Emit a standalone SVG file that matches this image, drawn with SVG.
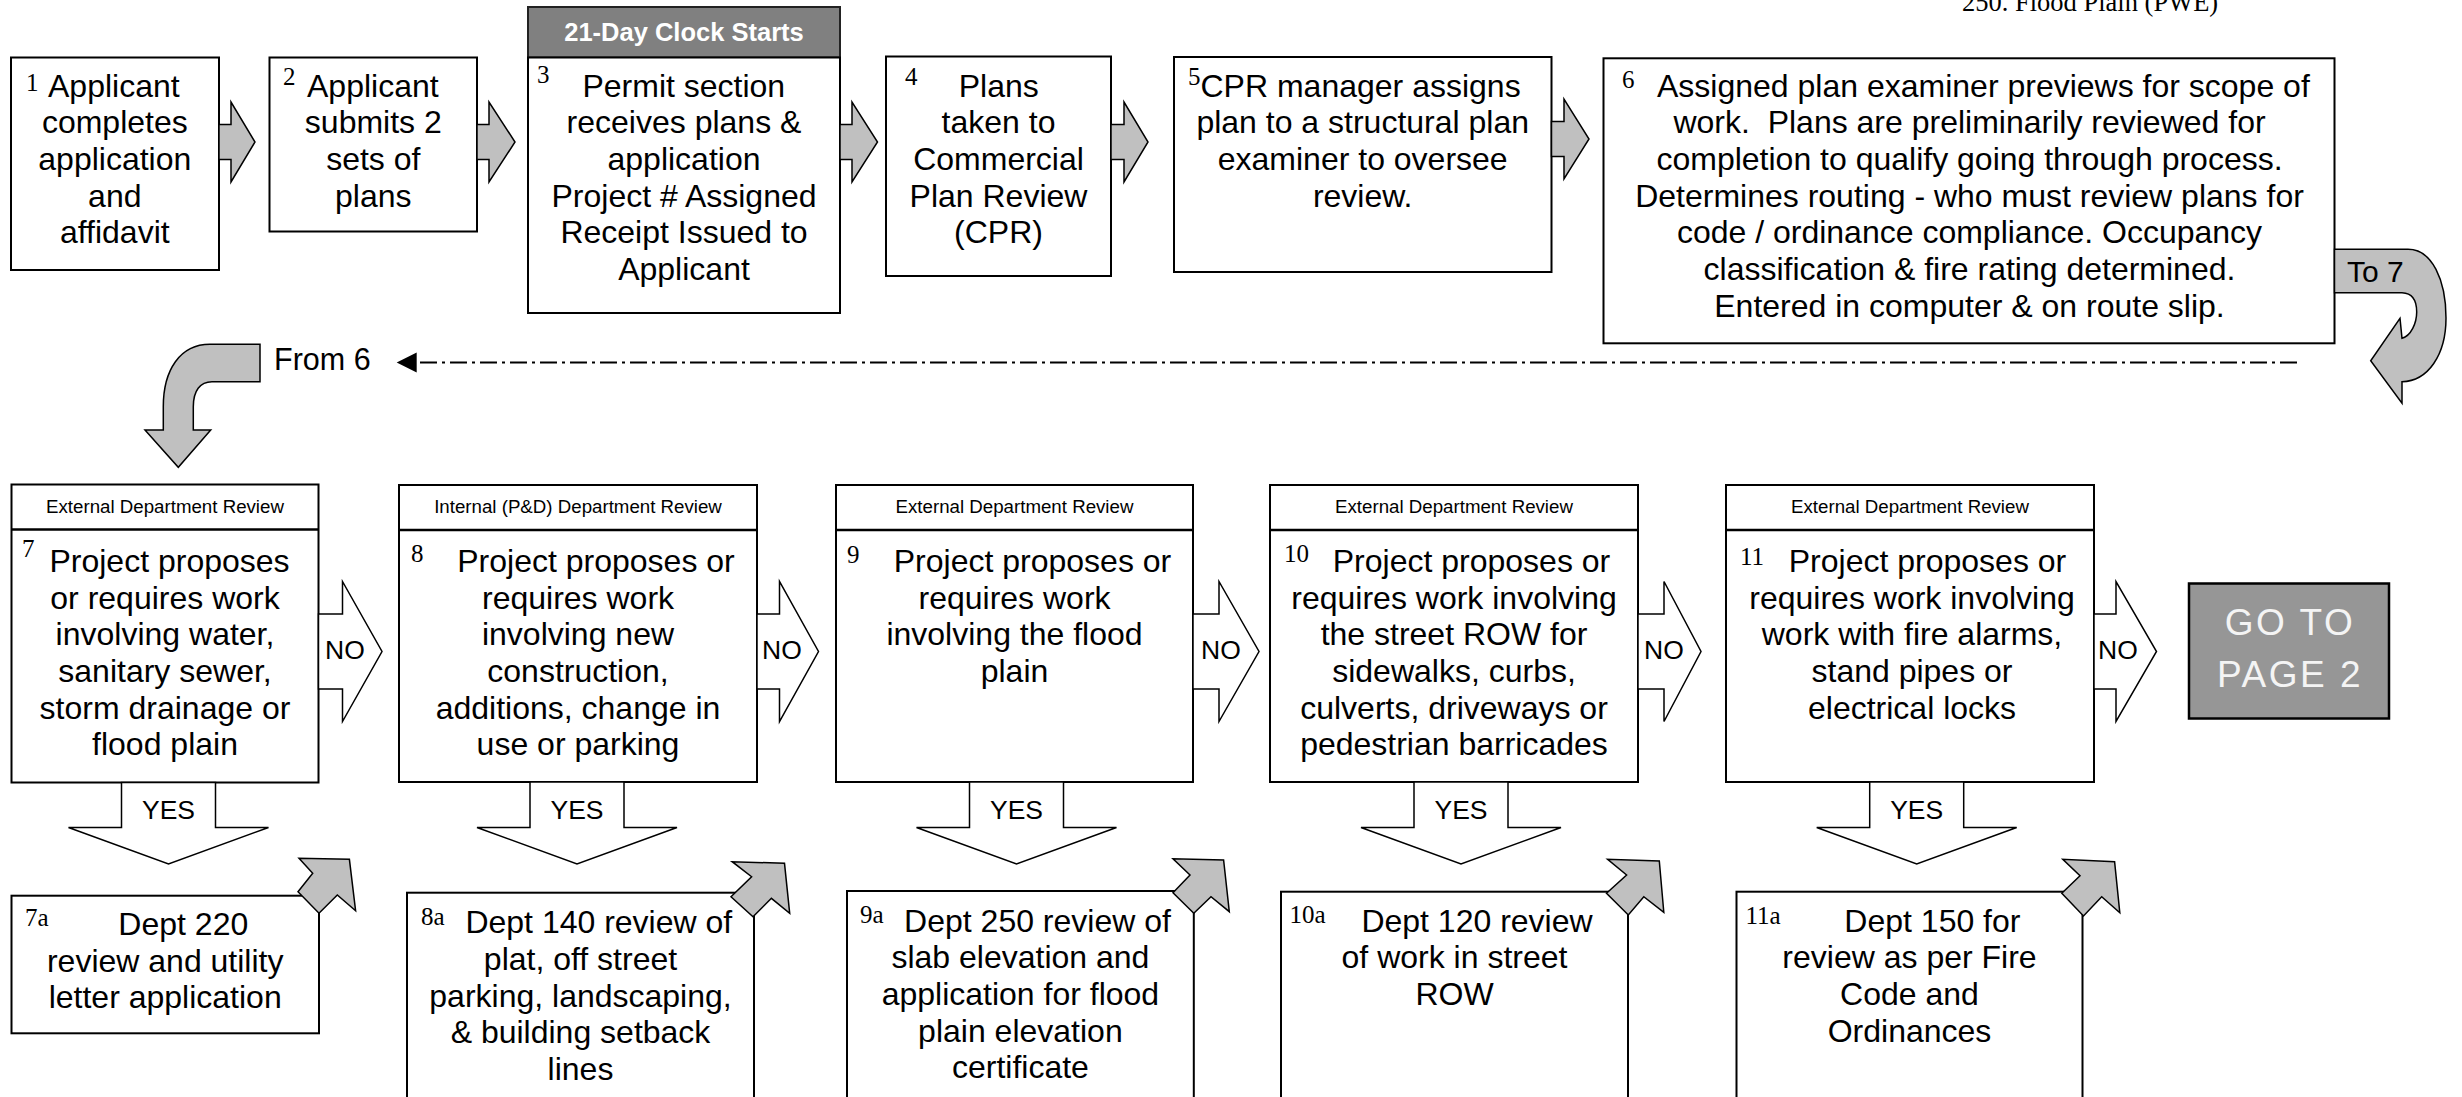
<svg xmlns="http://www.w3.org/2000/svg" width="2462" height="1097" viewBox="0 0 2462 1097">
<style>
.bg{fill:#fff}
.box{fill:#fff;stroke:#000;stroke-width:2}
.hdr{fill:#808080;stroke:#222;stroke-width:2}
.go{fill:#969696;stroke:#000;stroke-width:2.5}
.ga{fill:#c0c0c0;stroke:#000;stroke-width:1.5;stroke-linejoin:miter}
.wa{fill:#fff;stroke:#000;stroke-width:1.5}
.t{font-family:"Liberation Sans",Arial,sans-serif;font-size:32px;fill:#000;text-anchor:middle}
.s{text-anchor:start}
.n{font-family:"Liberation Serif","Times New Roman",serif;font-size:25px;fill:#000}
.h{font-family:"Liberation Sans",Arial,sans-serif;font-size:18.7px;fill:#000;text-anchor:middle}
.lbl{font-family:"Liberation Sans",Arial,sans-serif;font-size:26.5px;fill:#000}
.dash{fill:none;stroke:#000;stroke-width:2;stroke-dasharray:17 5 3 5}
</style>
<rect class="bg" x="0" y="0" width="2462" height="1097"/>
<text x="1962" y="11" style="font-family:'Liberation Serif','Times New Roman',serif;font-size:26.5px">250. Flood Plain (PWE)</text>

<g id="node-1">
<rect class="box" x="11" y="57.5" width="208" height="212.5"/>
<text class="n" x="26" y="90.7">1</text>
<text class="t s" x="48" y="96.7">Applicant</text>
<text class="t" x="114.8" y="133.3">completes</text>
<text class="t" x="114.8" y="170">application</text>
<text class="t" x="114.8" y="206.7">and</text>
<text class="t" x="114.8" y="243.3">affidavit</text>
</g>
<g id="node-2">
<rect class="box" x="269.5" y="57.5" width="207.5" height="174"/>
<text class="n" x="283" y="85">2</text>
<text class="t s" x="307" y="96.7">Applicant</text>
<text class="t" x="373.3" y="133.3">submits 2</text>
<text class="t" x="373.3" y="170">sets of</text>
<text class="t" x="373.3" y="206.7">plans</text>
</g>
<g id="node-3">
<rect class="hdr" x="528" y="7" width="312" height="50.5"/>
<text x="684" y="40.7" style="font-family:'Liberation Sans',Arial,sans-serif;font-size:25.5px;font-weight:bold;fill:#fff;text-anchor:middle">21-Day Clock Starts</text>
<rect class="box" x="528" y="57.5" width="312" height="255.5"/>
<text class="n" x="537" y="83.3">3</text>
<text class="t" x="683.8" y="96.7">Permit section</text>
<text class="t" x="684" y="133.3">receives plans &amp;</text>
<text class="t" x="684" y="170">application</text>
<text class="t" x="684" y="206.7">Project # Assigned</text>
<text class="t" x="684" y="243.3">Receipt Issued to</text>
<text class="t" x="684" y="280">Applicant</text>
</g>
<g id="node-4">
<rect class="box" x="886" y="56.5" width="225" height="219.5"/>
<text class="n" x="905" y="85">4</text>
<text class="t" x="998.8" y="96.7">Plans</text>
<text class="t" x="998.5" y="133.3">taken to</text>
<text class="t" x="998.5" y="170">Commercial</text>
<text class="t" x="998.5" y="206.7">Plan Review</text>
<text class="t" x="998.5" y="243.3">(CPR)</text>
</g>
<g id="node-5">
<rect class="box" x="1174" y="57" width="377.5" height="215"/>
<text class="n" x="1188" y="85">5</text>
<text class="t s" x="1200.5" y="96.7">CPR manager assigns</text>
<text class="t" x="1362.7" y="133.3">plan to a structural plan</text>
<text class="t" x="1362.7" y="170">examiner to oversee</text>
<text class="t" x="1362.7" y="206.7">review.</text>
</g>
<g id="node-6">
<rect class="box" x="1603.5" y="58.3" width="731" height="285"/>
<text class="n" x="1622" y="88.3">6</text>
<text class="t s" x="1657" y="96.7">Assigned plan examiner previews for scope of</text>
<text class="t" x="1969.5" y="133.3" xml:space="preserve">work.  Plans are preliminarily reviewed for</text>
<text class="t" x="1969.5" y="170">completion to qualify going through process.</text>
<text class="t" x="1969.5" y="206.7">Determines routing - who must review plans for</text>
<text class="t" x="1969.5" y="243.3">code / ordinance compliance. Occupancy</text>
<text class="t" x="1969.5" y="280">classification &amp; fire rating determined.</text>
<text class="t" x="1969.5" y="316.7">Entered in computer &amp; on route slip.</text>
</g>

<g id="node-7">
<rect class="box" x="11.5" y="484.5" width="307" height="298"/>
<line x1="11.5" y1="529.5" x2="318.5" y2="529.5" stroke="#000" stroke-width="2.5"/>
<text class="h" x="165" y="513.3">External Department Review</text>
<text class="n" x="22" y="556.7">7</text>
<text class="t" x="169.5" y="572">Project proposes</text>
<text class="t" x="165" y="608.7">or requires work</text>
<text class="t" x="165" y="645.4">involving water,</text>
<text class="t" x="165" y="682">sanitary sewer,</text>
<text class="t" x="165" y="718.7">storm drainage or</text>
<text class="t" x="165" y="755.4">flood plain</text>
</g>
<g id="node-8">
<rect class="box" x="399" y="485" width="358" height="297"/>
<line x1="399" y1="530" x2="757" y2="530" stroke="#000" stroke-width="2.5"/>
<text class="h" x="578" y="513.3">Internal (P&amp;D) Department Review</text>
<text class="n" x="411" y="561.7">8</text>
<text class="t" x="596" y="572">Project proposes or</text>
<text class="t" x="578" y="608.7">requires work</text>
<text class="t" x="578" y="645.4">involving new</text>
<text class="t" x="578" y="682">construction,</text>
<text class="t" x="578" y="718.7">additions, change in</text>
<text class="t" x="578" y="755.4">use or parking</text>
</g>
<g id="node-9">
<rect class="box" x="836" y="485" width="357" height="297"/>
<line x1="836" y1="530" x2="1193" y2="530" stroke="#000" stroke-width="2.5"/>
<text class="h" x="1014.5" y="513.3">External Department Review</text>
<text class="n" x="847" y="563">9</text>
<text class="t" x="1032.5" y="572">Project proposes or</text>
<text class="t" x="1014.5" y="608.7">requires work</text>
<text class="t" x="1014.5" y="645.4">involving the flood</text>
<text class="t" x="1014.5" y="682">plain</text>
</g>
<g id="node-10">
<rect class="box" x="1270" y="485" width="368" height="297"/>
<line x1="1270" y1="530" x2="1638" y2="530" stroke="#000" stroke-width="2.5"/>
<text class="h" x="1454" y="513.3">External Department Review</text>
<text class="n" x="1284" y="561.7">10</text>
<text class="t" x="1471.5" y="572">Project proposes or</text>
<text class="t" x="1454" y="608.7">requires work involving</text>
<text class="t" x="1454" y="645.4">the street ROW for</text>
<text class="t" x="1454" y="682">sidewalks, curbs,</text>
<text class="t" x="1454" y="718.7">culverts, driveways or</text>
<text class="t" x="1454" y="755.4">pedestrian barricades</text>
</g>
<g id="node-11">
<rect class="box" x="1726" y="485" width="368" height="297"/>
<line x1="1726" y1="530" x2="2094" y2="530" stroke="#000" stroke-width="2.5"/>
<text class="h" x="1910" y="513.3">External Department Review</text>
<text class="n" x="1740" y="565">11</text>
<text class="t" x="1927.5" y="572">Project proposes or</text>
<text class="t" x="1912" y="608.7">requires work involving</text>
<text class="t" x="1912" y="645.4">work with fire alarms,</text>
<text class="t" x="1912" y="682">stand pipes or</text>
<text class="t" x="1912" y="718.7">electrical locks</text>
</g>
<g id="node-go">
<rect class="go" x="2189" y="583.5" width="200" height="135"/>
<text x="2290" y="635" style="font-family:'Liberation Sans',Arial,sans-serif;font-size:37px;fill:#f4f4f4;text-anchor:middle;letter-spacing:2.5px">GO TO</text>
<text x="2290" y="686.7" style="font-family:'Liberation Sans',Arial,sans-serif;font-size:37px;fill:#f4f4f4;text-anchor:middle;letter-spacing:2.5px">PAGE 2</text>
</g>

<g id="node-7a">
<rect class="box" x="11.5" y="895.7" width="307.5" height="137.6"/>
<text class="n" x="25" y="926">7a</text>
<text class="t" x="183.3" y="935">Dept 220</text>
<text class="t" x="165.2" y="971.7">review and utility</text>
<text class="t" x="165.2" y="1008.3">letter application</text>
</g>
<g id="node-8a">
<rect class="box" x="407" y="892.7" width="347" height="220"/>
<text class="n" x="421" y="925">8a</text>
<text class="t" x="598.8" y="933.3">Dept 140 review of</text>
<text class="t" x="580.5" y="970">plat, off street</text>
<text class="t" x="580.5" y="1006.7">parking, landscaping,</text>
<text class="t" x="580.5" y="1043.3">&amp; building setback</text>
<text class="t" x="580.5" y="1080">lines</text>
</g>
<g id="node-9a">
<rect class="box" x="847" y="891" width="346.8" height="220"/>
<text class="n" x="860" y="923.3">9a</text>
<text class="t" x="1037.5" y="931.7">Dept 250 review of</text>
<text class="t" x="1020.4" y="968.3">slab elevation and</text>
<text class="t" x="1020.4" y="1005">application for flood</text>
<text class="t" x="1020.4" y="1041.7">plain elevation</text>
<text class="t" x="1020.4" y="1078.3">certificate</text>
</g>
<g id="node-10a">
<rect class="box" x="1281" y="891.7" width="347" height="220"/>
<text class="n" x="1289.5" y="923.3">10a</text>
<text class="t" x="1477" y="931.7">Dept 120 review</text>
<text class="t" x="1454.5" y="968.3">of work in street</text>
<text class="t" x="1454.5" y="1005">ROW</text>
</g>
<g id="node-11a">
<rect class="box" x="1736.5" y="891.7" width="346" height="220"/>
<text class="n" x="1745.5" y="924">11a</text>
<text class="t" x="1932.4" y="931.7">Dept 150 for</text>
<text class="t" x="1909.5" y="968.3">review as per Fire</text>
<text class="t" x="1909.5" y="1005">Code and</text>
<text class="t" x="1909.5" y="1041.7">Ordinances</text>
</g>

<g id="connectors">
<polygon class="ga" points="219,124.5 231,124.5 231,102 255,142 231,182 231,159.5 219,159.5"/>
<polygon class="ga" points="477,124.5 489,124.5 489,102 515,142 489,182 489,159.5 477,159.5"/>
<polygon class="ga" points="840,124.5 852,124.5 852,102 877.5,142 852,182 852,159.5 840,159.5"/>
<polygon class="ga" points="1111,124.5 1124,124.5 1124,102 1148,142 1124,182 1124,159.5 1111,159.5"/>
<polygon class="ga" points="1551.5,121.5 1564,121.5 1564,99 1589,139 1564,179 1564,156.5 1551.5,156.5"/>

<path class="ga" d="M2334.5,249.3 L2408,249.3 C2432,249.3 2446,280 2446,318 C2446,355 2428,381 2402,381.7 L2402,403.3 L2370.7,360.7 L2400,318.3 L2402,338.3 C2411,336 2416.7,323 2416.7,312 C2416.7,300 2412,293 2402,292.7 L2334.5,292.7 Z"/>
<text x="2347" y="282" style="font-family:'Liberation Sans',Arial,sans-serif;font-size:30px">To 7</text>

<line class="dash" x1="2297" y1="362.5" x2="414" y2="362.5"/>
<polygon points="396.7,362.5 416.7,352.5 416.7,372.5" fill="#000"/>
<text x="274" y="370" style="font-family:'Liberation Sans',Arial,sans-serif;font-size:30.5px">From 6</text>
<path class="ga" d="M260,344.3 L210,344.3 C180,344.3 163.3,370 163.3,406.7 L163.3,430 L145,430 L178.3,467.3 L210.7,430 L193.3,430 L193.3,406.7 C193.3,391 200,381.7 212,381.7 L260,381.7 Z"/>

<polygon class="wa" points="318.5,614 342.5,614 342.5,581.5 382,651.5 342.5,721.5 342.5,689 318.5,689"/>
<polygon class="wa" points="757,614 779.5,614 779.5,581.5 818.5,651.5 779.5,721.5 779.5,689 757,689"/>
<polygon class="wa" points="1193,614 1219,614 1219,581.5 1259,651.5 1219,721.5 1219,689 1193,689"/>
<polygon class="wa" points="1638,614 1664,614 1664,581.5 1701,651.5 1664,721.5 1664,689 1638,689"/>
<polygon class="wa" points="2094,614 2116,614 2116,581.5 2156.5,651.5 2116,721.5 2116,689 2094,689"/>
<text class="lbl" x="325" y="659">NO</text>
<text class="lbl" x="762" y="659">NO</text>
<text class="lbl" x="1201" y="659">NO</text>
<text class="lbl" x="1644" y="659">NO</text>
<text class="lbl" x="2098" y="659">NO</text>

<polygon class="wa" points="121.5,782.5 215.5,782.5 215.5,827.5 268.5,827.5 168.5,864 68.5,827.5 121.5,827.5"/>
<polygon class="wa" points="530,782 624,782 624,827.5 677,827.5 577,864 477,827.5 530,827.5"/>
<polygon class="wa" points="969.5,782 1063.5,782 1063.5,827.5 1116.5,827.5 1016.5,864 916.5,827.5 969.5,827.5"/>
<polygon class="wa" points="1414,782 1508,782 1508,827.5 1561,827.5 1461,864 1361,827.5 1414,827.5"/>
<polygon class="wa" points="1869.7,782 1963.7,782 1963.7,827.5 2016.7,827.5 1916.7,864 1816.7,827.5 1869.7,827.5"/>
<text class="lbl" x="168.5" y="818.5" text-anchor="middle">YES</text>
<text class="lbl" x="577" y="818.5" text-anchor="middle">YES</text>
<text class="lbl" x="1016.5" y="818.5" text-anchor="middle">YES</text>
<text class="lbl" x="1461" y="818.5" text-anchor="middle">YES</text>
<text class="lbl" x="1916.7" y="818.5" text-anchor="middle">YES</text>

<polygon class="ga" points="298,891.7 312.7,873.3 299,858.3 349.4,859.3 355.6,910.7 337.3,895 319,913.3"/>
<polygon class="ga" points="731,896.7 751.6,876.7 732.2,861.7 784.5,863.3 789.7,913.3 771.4,898.3 753,916.7"/>
<polygon class="ga" points="1173,892.7 1190,875 1173,858.7 1223.6,860 1229.3,911.7 1211,896.7 1193.8,913.3"/>
<polygon class="ga" points="1606.5,893.3 1626.6,875 1607.6,859.3 1659.3,861 1663.8,912.3 1643.8,896.7 1628.3,915"/>
<polygon class="ga" points="2061.8,893.3 2080,875.7 2062.8,859.3 2114.6,861.7 2119.8,912.7 2101.7,896.7 2083.5,916"/>
</g>
</svg>
